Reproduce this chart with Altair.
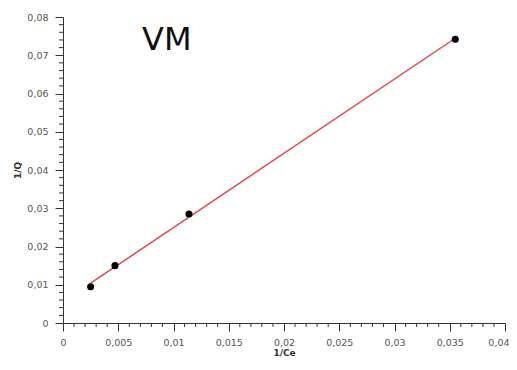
import altair as alt
import pandas as pd

# Data
inv_ce = [0.0025, 0.0047, 0.0114, 0.0355]
inv_q = [0.0095, 0.0150, 0.0285, 0.0742]

x_major = [0, 0.005, 0.01, 0.015, 0.02, 0.025, 0.03, 0.035, 0.04]
x_minor = [i / 1000 for i in range(0, 41) if i % 5 != 0]
y_major = [0, 0.01, 0.02, 0.03, 0.04, 0.05, 0.06, 0.07, 0.08]
y_minor = [i / 500 for i in range(0, 41) if i % 5 != 0]

title_text = ["VM"]

df = pd.DataFrame({"x": inv_ce, "y": inv_q})
dfx = pd.DataFrame({"x": x_minor})
dfy = pd.DataFrame({"y": y_minor})

W, H = 442, 306
FONT = "DejaVu Sans"
label_expr = "replace(toString(datum.value), '.', ',')"

xs = alt.Scale(domain=[0, 0.04], nice=False, zero=True)
ys = alt.Scale(domain=[0, 0.08], nice=False, zero=True)

major_x = alt.Axis(values=x_major, labelExpr=label_expr, title="1/Ce",
                   grid=False, tickSize=8, tickColor="#333", domainColor="#333",
                   labelFont=FONT, labelFontSize=9.5, labelColor="#555", labelPadding=6,
                   labelAlign={"condition": {"test": "datum.value >= 0.04", "value": "right"},
                               "value": "center"},
                   labelOffset={"condition": {"test": "datum.value >= 0.04", "value": 4},
                                "value": 0},
                   titleFont=FONT, titleFontSize=9, titleFontWeight="bold", titleColor="#333",
                   titlePadding=2, labelFlush=False, labelOverlap=False)
major_y = alt.Axis(values=y_major, labelExpr=label_expr, title="1/Q",
                   grid=False, tickSize=8, tickColor="#333", domainColor="#333",
                   labelFont=FONT, labelFontSize=9.5, labelColor="#555", labelPadding=7,
                   titleFont=FONT, titleFontSize=9, titleFontWeight="bold", titleColor="#333",
                   titlePadding=4, labelFlush=False, labelOverlap=False)

base = alt.Chart(df)

line = base.transform_regression("x", "y").mark_line(color="#e04848", strokeWidth=1.5).encode(
    x=alt.X("x:Q", scale=xs, axis=major_x),
    y=alt.Y("y:Q", scale=ys, axis=major_y),
)

points = base.mark_circle(size=50, color="black", opacity=1).encode(
    x=alt.X("x:Q", scale=xs, axis=major_x),
    y=alt.Y("y:Q", scale=ys, axis=major_y),
)

minor_x = alt.Chart(dfx).mark_rule(color="#333", strokeWidth=1).encode(
    x=alt.X("x:Q", scale=xs, axis=major_x), y=alt.value(H), y2=alt.value(H + 4)
)
minor_y = alt.Chart(dfy).mark_rule(color="#333", strokeWidth=1).encode(
    y=alt.Y("y:Q", scale=ys, axis=major_y), x=alt.value(-4), x2=alt.value(0)
)

label = alt.Chart(pd.DataFrame({"t": title_text})).mark_text(
    font=FONT, fontSize=32, color="#111", align="left", baseline="alphabetic"
).encode(text="t:N", x=alt.value(79), y=alt.value(33))

chart = alt.layer(line, points, minor_x, minor_y, label).properties(
    width=W, height=H,
    padding={"left": 55, "top": 9, "right": 4, "bottom": 39},
    autosize=alt.AutoSizeParams(type="none"),
    background="white",
).configure_view(stroke="transparent", strokeWidth=0).configure_axis(labelOverlap=False)

chart.save("out.html", embed_options={"renderer": "svg", "actions": False})
